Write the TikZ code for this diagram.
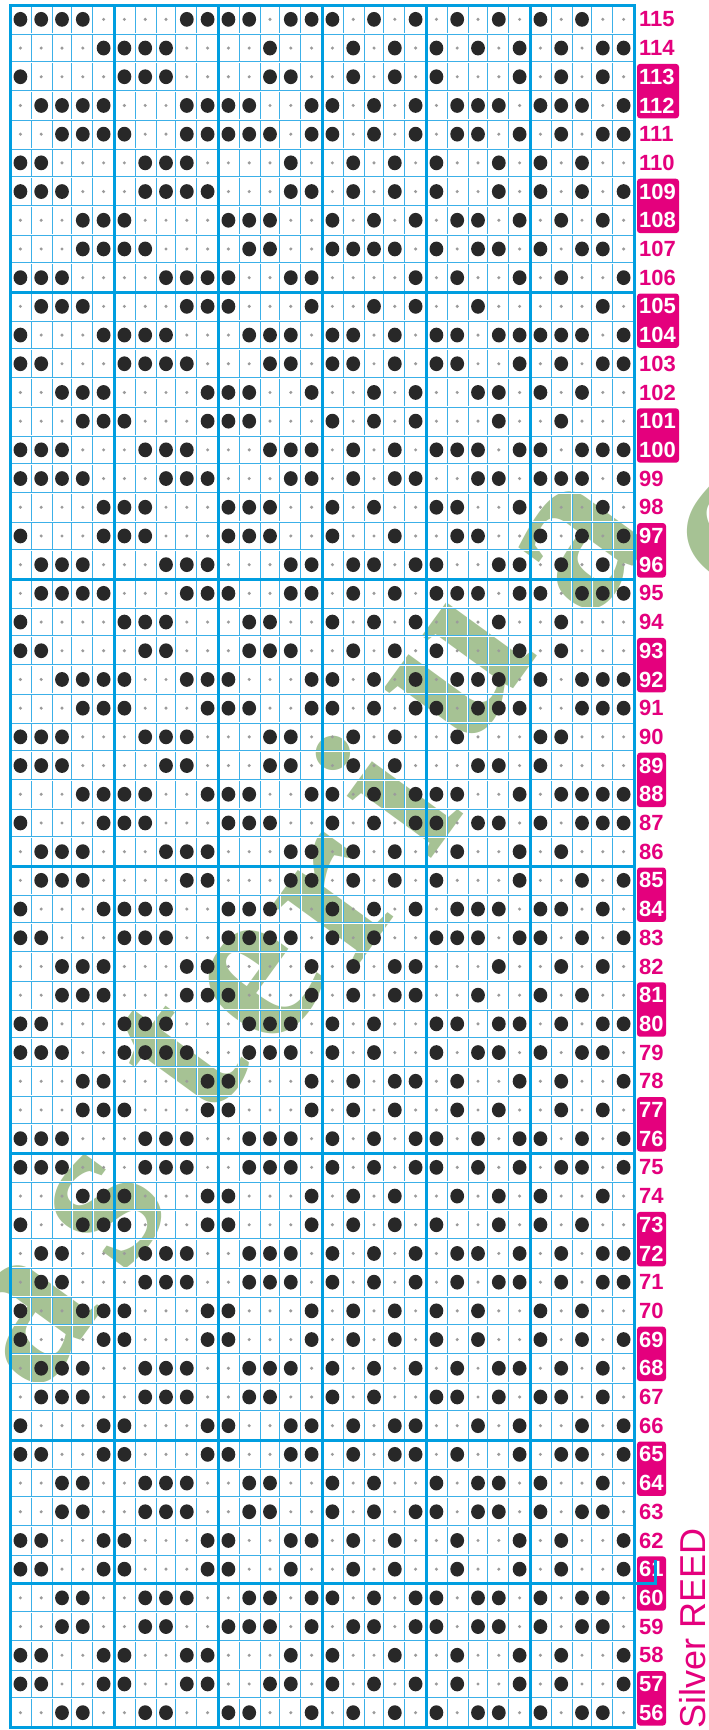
\documentclass[tikz,border=0pt]{standalone}
\usepackage{fontspec}
\setmainfont{Liberation Sans}
\newfontfamily\wmfont{Liberation Serif}
\definecolor{gblue}{RGB}{0,158,224}
\definecolor{lblue}{RGB}{60,176,232}
\definecolor{mag}{RGB}{228,0,125}
\definecolor{wmgreen}{RGB}{166,194,148}
\definecolor{dotc}{RGB}{40,40,40}
\definecolor{sdot}{RGB}{155,155,155}
\newcount\dcol
\def\rowi{0}
\def\dotparse#1{\ifx#1\relax\let\dpnext\relax\else
  \if#1X\fill[dotc] ({10+20.8*(\the\dcol+0.5)},{5+28.7*(\rowi+0.5)}) ellipse[x radius=6.9,y radius=7.4];\fi
  \advance\dcol by 1\relax
  \let\dpnext\dotparse\fi\dpnext}
\newcommand\drow[2]{\def\rowi{#1}\dcol=0 \dotparse#2\relax}
\tikzset{
  cellline/.style={draw=lblue, line width=0.6pt, double=white, double distance=0.8pt},
  thickline/.style={draw=gblue, line width=3pt},
  lab/.style={font=\fontsize{22}{22}\selectfont\bfseries, inner sep=1pt, anchor=west},
  wm/.style={font=\wmfont\fontsize{228}{228}\selectfont\bfseries, text=wmgreen, rotate=54, inner sep=0pt},
}
\begin{document}
\begin{tikzpicture}[x=1pt,y=-1pt]
\useasboundingbox (0,0) rectangle (709,1730);
\fill[white] (0,0) rectangle (709,1730);
% watermark
\foreach \ch/\px/\py [count=\n] in {a/30/1322, s/108/1210, t/180/1058, e/262/985, r/340/900, i/383/790, u/463/672, a/582/548, c/738/540}
  \node[wm] (wm\n) at (\px,\py) {\ch};
% cell grid
\foreach \k in {0,...,30} \draw[cellline] ({10+20.8*\k},5) -- ({10+20.8*\k},1727);
\foreach \j in {0,...,60} \draw[cellline] (10,{5+28.7*\j}) -- (634,{5+28.7*\j});
% thick lines
\foreach \k in {5,10,...,25} \draw[thickline] ({10+20.8*\k},5) -- ({10+20.8*\k},1727);
\foreach \j in {10,20,30,40,50,55} \draw[thickline] (10,{5+28.7*\j}) -- (634,{5+28.7*\j});
\draw[thickline] (10,5) rectangle (634,1727);
% small dots
\foreach \i in {0,...,59} \foreach \k in {0,...,29}
  \fill[sdot] ({10+20.8*(\k+0.5)},{5+28.7*(\i+0.5)}) circle[radius=1.7];
% big dots
\drow{0}{XXXX....XXXX.XXX.X.X.X.X.X.X..}
\drow{1}{....XXXX....X...X.X.X.X.X.X.XX}
\drow{2}{X....XXX....XX..X.X.X...X.X.X.}
\drow{3}{.XXXX...XXXX..XX.X.X.XXX.XXX.X}
\drow{4}{..XXXX..XXXXX.XX.X.X.XX.X.X.XX}
\drow{5}{XX....XXX....X..X.X.X..X.X.X..}
\drow{6}{XXX...XXXX...XX.X.X.X..X.X.X.X}
\drow{7}{...XXX....XXX..X.X.X.XX.X.X.X.}
\drow{8}{...XXXX....XX..XXXX.X.XX.X.XX.}
\drow{9}{XXX....XXXX..XX....X.X..X.X..X}
\drow{10}{.XXX....XXX...X..X.X..X.....X.}
\drow{11}{X...XXXX...XXX.XX.X.XX.XXXXX.X}
\drow{12}{XX...XXXX...XX.XX.X.XX..X.X.XX}
\drow{13}{..XXX....XXX..X..X.X..XX.X.X..}
\drow{14}{...XXX...XXX...X.X.X...X..X...}
\drow{15}{XXX...XXX...XXX.X.X.XXX.XX.XXX}
\drow{16}{XXXX...XXX...XX.X.XX..XX.XXX.X}
\drow{17}{....XXX...XXX..X.X..XX..X...X.}
\drow{18}{X...XXX...XXX..X..X..XX..X.X.X}
\drow{19}{.XXX...XXX...XX.XX.XX..XX.X.X.}
\drow{20}{.XXXX...XXX..XX.X.X.XXX.XX.XXX}
\drow{21}{X....XXX...XX..X.X.X...X..X...}
\drow{22}{XX....XX...XXX..X.X.X...X.X...}
\drow{23}{..XXXX..XXX...XX.X.X.XXX.X.XXX}
\drow{24}{...XXX...XXX..XX.X.XX.XXX..XXX}
\drow{25}{XXX...XXX...XX..X.X..X...XX...}
\drow{26}{XXX....XX...XX..X.X...XX.X....}
\drow{27}{...XXXX..XXX..XX.X.XXX..X.XXXX}
\drow{28}{X...XXX...XXX..X.X.XX.XX.X.XXX}
\drow{29}{.XXX...XXX...XX.X.X..X..X.X...}
\drow{30}{.XXX....XX...XX.X.X.X...X..X.X}
\drow{31}{X...XXXX..XXX..X.X.X.XXX.XX.X.}
\drow{32}{XX...XXX..XXXX.X.X..XXX.XX.X.X}
\drow{33}{..XXX...XX....X.X.XX...X..X.X.}
\drow{34}{..XXX...XXX...X.X.XX..X..X.X..}
\drow{35}{XX...XXX...XXX.X.X..XX.XX.X.XX}
\drow{36}{XXX..XXXX..XXX.X.X..X.XX.X.XX.}
\drow{37}{...XX....XX...X.X.XX.X..X.X..X}
\drow{38}{...XXX...XX...X.X.X..X.X..X.X.}
\drow{39}{XXX...XXX..XXX.X.X.XX.X.XX.X.X}
\drow{40}{XXX...XXX..XXX.X.X.XX.X.X.XX.X}
\drow{41}{...XXX...XX...X.X.X..X.X.X..X.}
\drow{42}{X..XXX...XX...X.X.X.X..X.X.X..}
\drow{43}{.XX...XXX..XXX.X.X.X.XX.X.X.XX}
\drow{44}{.XX...XXX..XXX.X.X.X.X.XX.X.XX}
\drow{45}{X..XXX...XX...X.X.X.X.X..X.X..}
\drow{46}{X...XX...XX...X.X.X.X.X..X.X.X}
\drow{47}{.XXX..XXX..XXX.X.X.X.X.XX.X.X.}
\drow{48}{.XXX..XXX..XX..X.X..XX.X.XX.X.}
\drow{49}{X...XX...XX..XX.X.XX..X.X..X.X}
\drow{50}{XX..XX...XX..XX.X.XX.X..X.XX.X}
\drow{51}{..XX..XXX..XX..X.X..X.XX.X..X.}
\drow{52}{..XX..XXX..XX..X.X.XX.XX.X.XX.}
\drow{53}{XX..XX...XX..XX.X.X..X..X.X..X}
\drow{54}{XX..XX...XX..X..X.X..X..X.X..X}
\drow{55}{..XX..XXX..XX.XX.X.XX.XX.X.XX.}
\drow{56}{..XX..XX..XXX.X.XX.XX.XX.X.XX.}
\drow{57}{XX..XX..XX...X.X..X..X..X.X..X}
\drow{58}{XX..XX..XX..XX.X.X.X.X..X.X..X}
\drow{59}{..XX..XX..XX..X.X.X.X.XX.X.XX.}
% label boxes
\foreach \i/\w in {2/42,6/42,10/42,14/42,18/29,22/29,26/29,30/29,34/29,38/29,42/29,46/29,50/29,54/29,58/29}
  \fill[mag, rounded corners=3pt] (637,{5+28.7*\i+1.5}) rectangle ({637+\w},{5+28.7*(\i+2)-1.5});
% labels
\foreach \r in {56,...,115} {
  \pgfmathtruncatemacro\ii{115-\r}
  \pgfmathtruncatemacro\mm{mod(\ii,4)}
  \ifnum\mm>1 \def\lc{white}\else\def\lc{mag}\fi
  \node[lab, text=\lc] (L\r) at (638,{5+28.7*(\ii+0.5)}) {\r};
}
% marker at 61
\coordinate (hk1) at (634,1583.5);
\coordinate (hk2) at (655,1583.5);
\coordinate (hk3) at (655,1560);
\draw[gblue, line width=3pt] (hk1) -- (hk2) -- (hk3);
% Silver REED
\node[font=\fontsize{36}{36}\selectfont, text=mag, rotate=90, anchor=base west, inner sep=0pt] (sr) at (705,1729) {Silver REED};
\end{tikzpicture}
\end{document}
